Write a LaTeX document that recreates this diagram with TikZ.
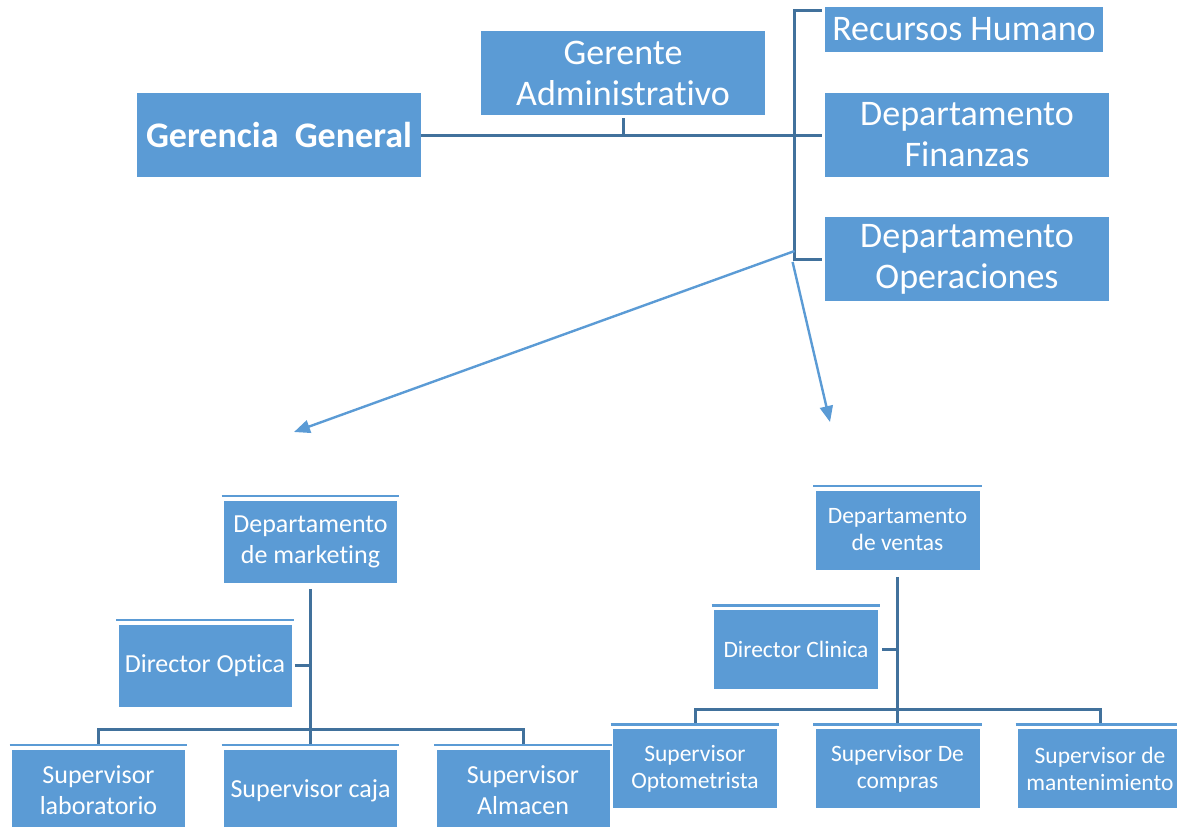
\documentclass[tikz,border=0pt]{standalone}
\usepackage{fontspec}
\setmainfont{Carlito}[Ligatures=NoCommon]
\usepackage{tikz}
\usetikzlibrary{arrows.meta,calc}
\definecolor{boxblue}{HTML}{5B9BD5}
\definecolor{linkblue}{HTML}{41719C}
\newcommand{\bigfont}{\fontsize{18}{20.5}\selectfont}
\newcommand{\midfont}{\fontsize{13}{15.5}\selectfont}
\newcommand{\smallfont}{\fontsize{11.75}{13.5}\selectfont}

\begin{document}
\begin{tikzpicture}[x=0.5pt,y=-0.5pt,
  box/.style={fill=boxblue,text=white,inner sep=0pt,align=center},
  topbox/.style={box,font=\bigfont,minimum width=142pt,minimum height=42pt},
  midbox/.style={box,font=\midfont,minimum width=86.5pt,minimum height=41pt},
  smallbox/.style={box,font=\smallfont,minimum width=82pt,minimum height=39.5pt},
  conn/.style={draw=linkblue,line width=1.5pt},
  arr/.style={draw=boxblue,line width=1.2pt,-{Triangle[length=8pt,width=6.5pt]}}]
\useasboundingbox (0,0) rectangle (1177,826);
\clip (0,0) rectangle (1177,826);

\node[topbox,font=\bfseries\bigfont] (gg) at (279,135) {Gerencia~~General};
\node[topbox] (ga) at (623,73) {Gerente\\Administrativo};
\node[topbox,minimum width=139pt,minimum height=22.5pt] (rh) at (964,29.5) {Recursos Humano};
\node[topbox] (df) at (967,135) {Departamento\\Finanzas};
\node[topbox] (dop) at (967,259) {Departamento\\Operaciones};

\draw[conn] ([shift={(-3,4)}]rh.north west) -- ++(-27,0) |- ([xshift=-1.5pt]dop.west);
\draw[conn] (gg.east) -- ([xshift=-1.5pt]df.west);
\draw[conn] ([shift={(0,3)}]ga.south) -- (ga.south |- gg.east);

\coordinate (mktarrow) at (294,432);
\coordinate (venarrow) at (830,422);
\draw[arr] ([shift={(-30,-8)}]dop.west) -- (mktarrow);
\draw[arr] ([shift={(-32,3)}]dop.west) -- (venarrow);

\node[midbox] (mkt) at (310.5,541.5) {Departamento\\de marketing};
\node[midbox] (dopt) at (205,665.5) {Director Optica};
\node[midbox] (slab) at (98.5,790.5) {Supervisor\\laboratorio};
\node[midbox] (scaja) at (310.5,790.5) {Supervisor caja};
\node[midbox] (salm) at (523,790.5) {Supervisor\\Almacen};

\draw[conn] ([shift={(0,6)}]mkt.south) -- ([shift={(0,-4)}]scaja.north);
\draw[conn] ([shift={(0,-4)}]slab.north) -- ++(0,-16) -| ([shift={(0,-4)}]salm.north);
\draw[conn] ([shift={(3,0)}]dopt.east) -- (dopt.east -| scaja.north);

\node[smallbox] (ven) at (897.5,530) {Departamento\\de ventas};
\node[smallbox] (dcli) at (796,649.5) {Director Clinica};
\node[smallbox] (sopt) at (695,768.5) {Supervisor\\Optometrista};
\node[smallbox] (scom) at (897.5,768.5) {Supervisor De\\compras};
\node[smallbox] (sman) at (1100,768.5) {Supervisor de\\mantenimiento};

\draw[conn] ([shift={(0,7)}]ven.south) -- ([shift={(0,-4)}]scom.north);
\draw[conn] ([shift={(0,-4)}]sopt.north) -- ++(0,-15) -| ([shift={(0,-4)}]sman.north);
\draw[conn] ([shift={(4,0)}]dcli.east) -- (dcli.east -| scom.north);

\foreach \n in {mkt,dopt,slab,scaja,salm,ven,dcli,sopt,scom,sman}
  \draw[boxblue,line width=1.2pt] ([shift={(-2,-4)}]\n.north west) -- ([shift={(2,-4)}]\n.north east);
\end{tikzpicture}
\end{document}
